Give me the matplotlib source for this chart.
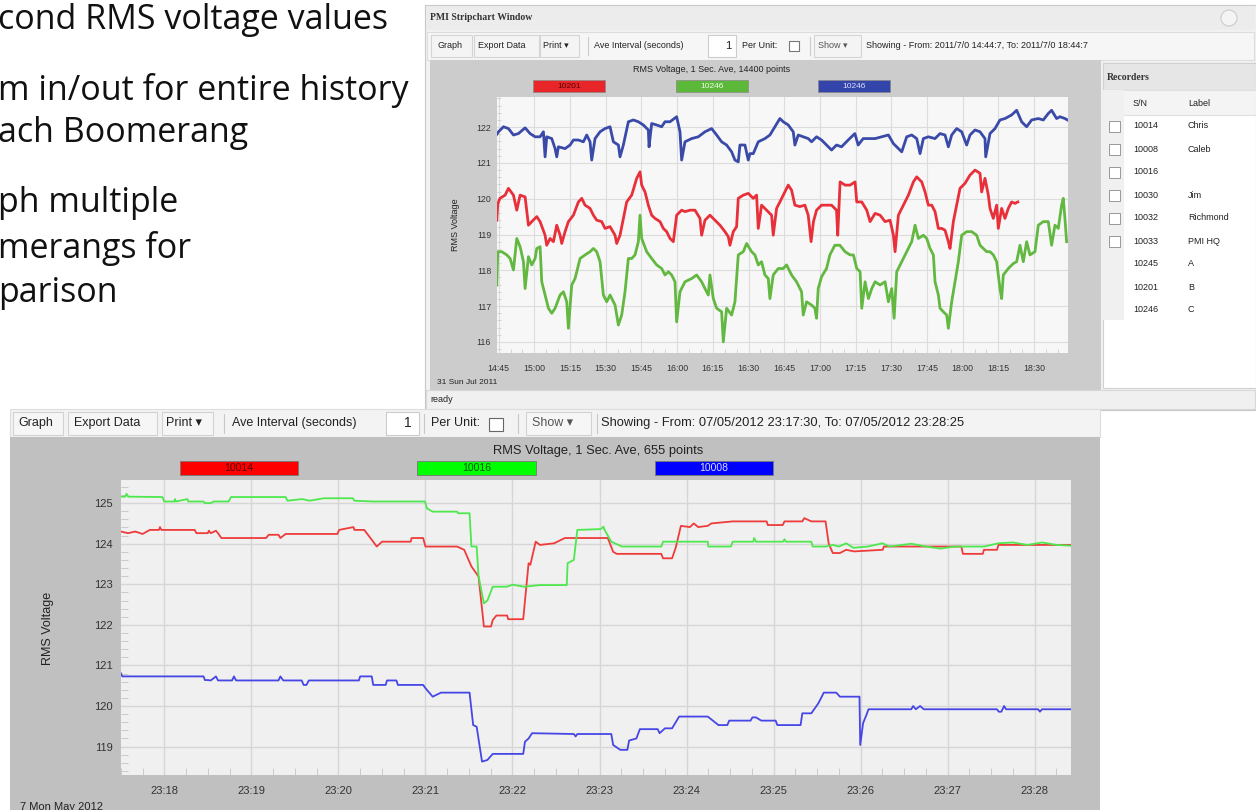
import matplotlib
matplotlib.use('Agg')
import matplotlib.pyplot as plt
from matplotlib.patches import Rectangle
from matplotlib.ticker import MultipleLocator, FixedLocator

W, H = 1256, 810

# ---- top chart (minutes after 14:00, 31 Jul 2011) ----
blue_top_t = [44.2, 44.9, 47.0, 49.1, 51.2, 53.3, 56.1, 58.2, 60.3, 62.4, 63.8, 64.5, 65.2, 67.3, 68.7, 69.4, 70.1, 72.9, 75.0, 76.4,
              78.5, 80.6, 82.0, 83.4, 84.1, 85.5, 87.6, 89.7, 91.8, 93.2, 95.3, 96.0, 97.4, 99.5, 101.6, 103.7, 105.8, 107.9, 108.2, 109.3,
              111.4, 113.5, 114.9, 117.0, 119.8, 121.2, 121.9, 123.3,
              126.1, 128.9, 131.7, 134.5, 136.6, 138.7, 140.8, 142.9, 144.3, 145.7, 146.4, 148.5, 149.9, 150.6, 152.0, 154.1, 156.9, 159.0, 161.1, 163.2,
              164.6, 166.7, 168.8, 169.5, 170.9, 173.0, 175.1, 176.5, 178.6, 180.7, 182.8, 184.9, 187.0, 189.1, 191.9, 194.7, 196.1, 198.2, 201.0,
              203.2, 206.0, 208.8, 210.9, 213.0, 214.4, 216.5, 218.6, 220.7, 222.1, 223.5, 225.6, 228.4, 230.5, 232.6, 234.0, 235.4, 237.5, 239.6, 241.7,
              243.1, 245.2, 247.3, 249.4, 249.7, 251.5, 253.6, 255.7, 257.8, 260.6, 262.7, 264.8, 266.9, 269.0, 271.8, 273.9, 276.0, 277.4, 279.5, 280.9,
              283.0, 284.1]
blue_top_v = [121.80, 121.87, 122.01, 121.96, 121.78, 121.82, 121.98, 121.82, 121.73, 121.73, 121.87, 121.17, 121.73, 121.68, 121.40, 121.17, 121.45, 121.40, 121.50, 121.64,
              121.64, 121.59, 121.78, 121.59, 121.08, 121.68, 121.87, 121.96, 122.01, 121.59, 121.50, 121.17, 121.50, 122.15, 122.20, 122.15, 122.06, 121.92, 121.45, 122.10,
              122.06, 122.01, 122.15, 122.15, 122.29, 121.87, 121.08, 121.59,
              121.68, 121.73, 121.87, 121.96, 121.78, 121.59, 121.50, 121.31, 121.08, 121.03, 121.50, 121.50, 121.08, 121.26, 121.26, 121.59, 121.68, 121.78, 122.01, 122.24,
              122.15, 122.06, 121.87, 121.50, 121.78, 121.73, 121.68, 121.59, 121.73, 121.64, 121.50, 121.36, 121.50, 121.45, 121.64, 121.82, 121.50, 121.68, 121.68,
              121.68, 121.73, 121.78, 121.54, 121.40, 121.31, 121.73, 121.78, 121.68, 121.26, 121.68, 121.73, 121.68, 121.82, 121.78, 121.45, 121.78, 121.96, 121.87, 121.50,
              121.78, 121.92, 121.87, 121.68, 121.17, 121.82, 121.96, 122.20, 122.24, 122.34, 122.47, 122.15, 122.01, 122.20, 122.24, 122.20, 122.38, 122.47, 122.24, 122.29,
              122.24, 122.20]

red_top_t = [44.2, 44.6, 45.5, 47.7, 49.1, 51.2, 52.6, 54.0, 56.1, 57.5, 58.9, 61.0, 62.4, 64.5, 65.2, 66.6, 68.0, 69.4, 70.8, 71.5, 72.9,
             74.3, 76.4, 78.5, 79.9, 81.3, 83.4, 84.8, 86.2, 88.3, 89.7, 91.8, 93.9, 94.6, 96.0, 97.4, 98.8, 100.9, 103.0, 104.4, 105.1,
             106.5, 107.9, 109.3, 110.7, 112.8, 114.2, 115.6, 117.0, 118.4, 119.8, 121.9,
             123.3, 125.4, 127.5, 129.6, 130.3, 131.7, 133.8, 135.9, 138.0, 140.1, 141.5, 142.2, 143.6, 145.0, 145.7, 147.8, 149.9, 152.0, 153.4, 154.1,
             155.5, 157.6, 159.7, 160.4, 161.8, 163.2, 164.6, 166.7, 168.1, 169.5, 171.6, 173.7, 175.1, 176.3, 177.3, 178.6, 180.7, 182.8, 184.9, 187.0,
             187.5, 188.5, 190.6, 192.7, 194.8, 195.5, 197.6, 199.7, 201.1,
             203.2, 205.3, 207.4, 209.5, 210.9, 211.6, 213.0, 215.1, 217.2, 219.3, 220.7, 222.8, 224.2, 225.6, 227.0, 228.4, 229.8, 231.2, 232.6, 234.0,
             234.7, 236.1, 237.5, 238.9, 241.0, 243.1, 245.2, 247.3, 248.0, 249.4, 250.8, 251.5, 252.9, 254.3, 255.0, 256.4, 257.8, 259.2, 260.6, 262.0,
             263.2]
red_top_v = [119.40, 119.85, 120.01, 120.10, 120.29, 120.10, 119.68, 120.10, 120.05, 119.26, 119.36, 119.50, 119.36, 118.98, 118.70, 118.89, 118.80, 119.26, 118.98, 118.75, 119.08,
             119.36, 119.54, 119.91, 120.01, 119.82, 119.73, 119.54, 119.40, 119.36, 119.17, 119.22, 118.98, 118.75, 118.98, 119.45, 119.91, 120.10, 120.57, 120.75, 120.38,
             120.19, 119.82, 119.54, 119.45, 119.36, 119.17, 119.08, 118.89, 118.80, 119.54, 119.68,
             119.64, 119.68, 119.68, 119.45, 118.98, 119.40, 119.54, 119.40, 119.26, 119.08, 118.94, 118.70, 119.08, 119.22, 120.01, 120.10, 120.15, 120.01, 120.10, 119.17,
             119.82, 119.68, 119.54, 118.98, 119.73, 119.91, 120.10, 120.38, 120.24, 119.82, 119.78, 119.82, 119.54, 118.80, 119.36, 119.68, 119.82, 119.82, 119.82, 119.68,
             118.98, 120.47, 120.38, 120.38, 120.47, 119.91, 119.91, 119.68, 119.36,
             119.59, 119.54, 119.36, 119.40, 118.98, 118.52, 119.54, 119.82, 120.10, 120.47, 120.61, 120.47, 120.19, 119.82, 119.82, 119.64, 119.17, 119.17, 119.12, 118.80,
             118.61, 119.36, 119.82, 120.29, 120.43, 120.66, 120.80, 120.71, 120.19, 120.57, 120.10, 119.73, 119.45, 119.82, 119.17, 119.73, 119.45, 119.73, 119.91, 119.87,
             119.91]

green_top_t = [44.2, 44.6, 46.3, 48.4, 49.8, 51.2, 52.6, 54.0, 55.4, 56.1, 57.5, 58.9, 60.3, 61.0, 62.4, 63.1, 64.5, 65.9, 67.3, 68.7,
               70.8, 72.2, 73.6, 74.3, 75.7, 77.1, 79.2, 81.3, 83.4, 84.8, 86.2, 87.6, 89.0, 90.4, 91.8, 93.9, 95.3, 96.7, 98.1, 99.5,
               100.9, 102.3, 103.7, 104.4, 105.1, 107.2, 109.3, 111.4, 113.5, 114.9, 116.3, 117.7, 119.1, 119.8, 121.2,
               123.3, 126.1, 128.2, 130.3, 131.7, 133.1, 133.8, 135.2, 136.6, 138.7, 139.4, 140.8, 142.9, 144.3, 145.7, 147.8, 149.2, 151.3, 152.7, 154.1,
               155.5, 156.9, 158.3, 159.0, 160.4, 162.5, 164.6, 166.0, 168.1, 170.2, 172.3, 173.0, 174.4, 176.5, 177.9, 178.6, 179.3, 180.7, 182.8, 184.2,
               186.3, 188.4, 190.6, 192.7, 194.1, 195.5, 196.9, 197.6, 199.0, 200.4, 201.8,
               203.2, 205.3, 207.4, 208.8, 210.2, 211.2, 212.3, 214.4, 216.5, 218.6, 220.0, 221.4, 223.5, 224.9, 226.3, 227.7, 228.4, 229.8, 230.5, 231.9,
               233.3, 234.0, 235.4, 236.8, 238.2, 239.6, 241.7, 243.8, 245.9, 247.3, 248.7, 250.1, 251.5, 252.9, 254.3, 255.7, 256.4, 257.1, 259.2, 261.3,
               262.7, 264.1, 265.5, 266.9, 268.3, 270.4, 271.8, 273.9, 276.0, 277.4, 278.8, 280.2, 281.6, 282.3, 283.0, 283.7]
green_top_v = [117.59, 118.52, 118.52, 118.43, 118.33, 118.01, 118.89, 118.66, 118.24, 117.49, 118.38, 118.15, 118.33, 118.61, 118.66, 117.68, 117.31, 116.94, 116.80, 116.94,
               117.31, 117.40, 117.12, 116.38, 117.59, 117.77, 118.33, 118.43, 118.52, 118.61, 118.52, 118.24, 117.31, 117.12, 117.31, 117.03, 116.47, 116.75, 117.40, 118.33,
               118.33, 118.43, 118.80, 119.54, 118.89, 118.52, 118.33, 118.15, 118.05, 117.87, 117.96, 117.87, 117.68, 116.56, 117.40,
               117.68, 117.77, 117.87, 117.68, 117.49, 117.31, 117.87, 117.21, 116.94, 116.84, 116.00, 116.94, 116.75, 117.12, 118.43, 118.52, 118.75, 118.52, 118.43, 118.15,
               118.24, 117.87, 117.77, 117.21, 117.87, 118.05, 118.05, 118.15, 117.87, 117.68, 117.40, 116.75, 117.12, 117.03, 116.94, 116.66, 117.49, 117.82, 118.05, 118.43,
               118.70, 118.70, 118.52, 118.43, 118.43, 118.05, 117.96, 116.94, 117.68, 117.21, 117.49,
               117.68, 117.59, 117.68, 117.12, 117.49, 116.66, 117.96, 118.24, 118.52, 118.80, 119.26, 118.89, 118.98, 118.89, 118.61, 118.43, 117.68, 117.31, 116.94, 116.84,
               116.75, 116.38, 117.12, 117.68, 118.24, 118.98, 119.08, 119.08, 118.98, 118.70, 118.61, 118.52, 118.52, 118.43, 118.24, 117.49, 117.21, 117.87, 118.05, 118.19,
               118.24, 118.70, 118.24, 118.80, 118.43, 118.52, 119.26, 119.36, 119.36, 118.70, 119.26, 119.17, 119.82, 120.01, 119.45, 118.80]

top_ticks = [45, 60, 75, 90, 105, 120, 135, 150, 165, 180, 195, 210, 225, 240, 255, 270]
top_tick_labels = ['14:45', '15:00', '15:15', '15:30', '15:45', '16:00', '16:15', '16:30',
                   '16:45', '17:00', '17:15', '17:30', '17:45', '18:00', '18:15', '18:30']

# ---- bottom chart (seconds after 23:17:30, 7 May 2012) ----
red_bot_s = [0, 5, 10, 15, 20, 26.3, 27, 28, 50.9, 52.1, 60, 60.7, 62, 65.6, 67, 69.3, 100.1, 102, 108.7, 110,
             113.6, 149.3, 150.5, 160.4, 161, 167.8, 174, 176.4, 180.1, 199.8, 200.5, 208.4, 210, 231.8, 236.7, 241.7, 246.6, 250.3, 255.2, 256.4,
             258.9, 266.3, 267, 277.4, 281.1, 282.3, 286, 288.9, 298.7, 306.1, 335.7, 339.4, 341.8, 372.6, 373.8, 380, 382.5, 386.1, 392.3, 395,
             398, 404.6, 407.1, 421.8, 445.2, 446, 456.3, 457.5, 469.8, 471.1, 476, 485.8, 488, 490.8, 495.7, 500, 505.5, 525.2, 526, 579.4,
             580.5, 594.2, 595, 604, 605, 655]
red_bot_v = [124.30, 124.26, 124.30, 124.24, 124.34, 124.34, 124.41, 124.34, 124.34, 124.26, 124.26, 124.32, 124.26, 124.32, 124.26, 124.14, 124.14, 124.22, 124.22, 124.14,
             124.24, 124.24, 124.34, 124.41, 124.34, 124.34, 124.05, 123.93, 124.05, 124.05, 124.14, 124.14, 123.93, 123.93, 123.85, 123.44, 123.19, 121.96, 121.96, 122.12,
             122.23, 122.23, 122.14, 122.14, 123.52, 123.48, 124.05, 123.97, 124.01, 124.14, 124.14, 123.80, 123.75, 123.75, 123.64, 123.64, 123.90, 124.44, 124.41, 124.50,
             124.41, 124.44, 124.50, 124.55, 124.55, 124.46, 124.46, 124.55, 124.55, 124.63, 124.55, 124.55, 124.00, 123.77, 123.77, 123.85, 123.81, 123.85, 123.93, 123.93,
             123.75, 123.75, 123.85, 123.85, 123.97, 123.97]

green_bot_s = [0, 3, 4, 5, 28.7, 29.9, 37, 37.3, 38, 45.9, 46.5, 57, 58, 62, 64, 74.3, 76, 113.6, 114.9, 125,
               130, 140, 160, 161, 174, 209.7, 211, 215, 231.8, 232.5, 240.4, 241.7, 245.3, 246.6, 250.3, 252.7, 256.4, 266, 270, 278,
               288.9, 307.4, 308, 312.3, 314.7, 330.8, 332.7, 333.2, 338.1, 345.5, 372.6, 373.8, 404.6, 405, 420.6, 421.8, 436, 436.6, 437.8, 456.5,
               457.5, 458.5, 476, 477, 485.8, 490.8, 495, 500, 505, 515, 525, 530, 545, 555, 565, 575, 595, 605, 615, 625,
               635, 645, 655]
green_bot_v = [125.16, 125.16, 125.23, 125.16, 125.15, 125.04, 125.04, 125.10, 125.04, 125.10, 125.04, 125.04, 125.00, 125.00, 125.04, 125.04, 125.15, 125.15, 125.06, 125.10,
               125.06, 125.12, 125.12, 125.06, 125.04, 125.04, 124.87, 124.79, 124.79, 124.75, 124.75, 123.93, 123.93, 123.20, 122.53, 122.60, 122.94, 122.94, 122.99, 122.94,
               122.98, 122.98, 123.52, 123.60, 124.34, 124.36, 124.42, 124.36, 124.05, 123.93, 123.93, 124.05, 124.05, 123.93, 123.93, 124.05, 124.05, 124.14, 124.05, 124.05,
               124.11, 124.05, 124.05, 123.93, 123.93, 123.97, 123.93, 124.01, 123.90, 123.93, 124.01, 123.93, 124.00, 123.93, 123.88, 123.93, 123.93, 124.01, 124.03, 123.97,
               124.03, 123.97, 123.95]

blue_bot_s = [0, 1, 57, 58, 60, 62, 65.6, 67, 76.7, 78, 79.5, 108.7, 110, 112, 124.7, 126, 128, 129.6, 164.1, 165,
              173, 174, 182.6, 183.5, 190, 191, 208.4, 210, 215, 220.7, 240.4, 242.9, 245.3, 249, 252.7, 256.4, 277.4, 278.6, 281.1, 283.5,
              312.3, 313.5, 314.7, 338.1, 339.4, 344.3, 349.2, 350.4, 355.4, 357.8, 370.1, 371.4, 375.1, 380, 384.9, 404.6, 412, 418.1, 419.4, 434.1,
              435.4, 437.8, 441.5, 451.4, 452.6, 468.6, 469.8, 476, 480.9, 484.6, 493.2, 495.7, 509.2, 509.7, 511.7, 514.2, 515.4, 544.9, 546.2, 548,
              551, 553.5, 604, 605.2, 607, 608.9, 610.2, 632.3, 633.6, 635, 655]
blue_bot_v = [120.81, 120.73, 120.73, 120.64, 120.64, 120.63, 120.73, 120.63, 120.63, 120.73, 120.63, 120.63, 120.73, 120.63, 120.63, 120.52, 120.52, 120.63, 120.63, 120.73,
              120.73, 120.52, 120.52, 120.63, 120.63, 120.52, 120.52, 120.44, 120.23, 120.33, 120.33, 119.53, 119.49, 118.63, 118.67, 118.82, 118.82, 119.12, 119.20, 119.33,
              119.31, 119.25, 119.31, 119.31, 119.04, 118.92, 118.92, 119.15, 119.20, 119.43, 119.43, 119.33, 119.45, 119.45, 119.74, 119.74, 119.53, 119.53, 119.64, 119.64,
              119.72, 119.72, 119.64, 119.64, 119.53, 119.53, 119.82, 119.82, 120.07, 120.33, 120.33, 120.23, 120.23, 119.04, 119.58, 119.80, 119.92, 119.92, 120.00, 119.92,
              120.00, 119.92, 119.92, 119.86, 119.86, 120.00, 119.92, 119.92, 119.86, 119.92, 119.92]

bot_ticks = [30, 90, 150, 210, 270, 330, 390, 450, 510, 570, 630]
bot_tick_labels = ['23:18', '23:19', '23:20', '23:21', '23:22', '23:23', '23:24', '23:25', '23:26', '23:27', '23:28']

bullets = ['cond RMS voltage values', 'm in/out for entire history', 'ach Boomerang',
           'ph multiple', 'merangs for', 'parison']
bullet_y = [20, 90, 133, 203, 248, 293]

recorder_sn = ['10014', '10008', '10016', '10030', '10032', '10033', '10245', '10201', '10246']
recorder_label = ['Chris', 'Caleb', '', 'Jim', 'Richmond', 'PMI HQ', 'A', 'B', 'C']

UI = ['Liberation Sans', 'DejaVu Sans']

fig = plt.figure(figsize=(W / 100, H / 100), dpi=100)
fig.patch.set_facecolor('white')
bg = fig.add_axes([0, 0, 1, 1])
bg.set_xlim(0, W)
bg.set_ylim(H, 0)
bg.axis('off')


def box(x0, y0, x1, y1, fc, ec='none', lw=0.8, z=1):
    bg.add_patch(Rectangle((x0, y0), x1 - x0, y1 - y0, facecolor=fc, edgecolor=ec, lw=lw, zorder=z))


def txt(x, y, s, size, **kw):
    kw.setdefault('family', UI)
    kw.setdefault('va', 'center')
    kw.setdefault('color', '#222222')
    bg.text(x, y, s, fontsize=size, zorder=5, **kw)


def axes_px(x0, y0, x1, y1):
    return fig.add_axes([x0 / W, 1 - y1 / H, (x1 - x0) / W, (y1 - y0) / H])


# slide bullets
for s, y in zip(bullets, bullet_y):
    txt(-2, y, s, 24.5, family='Open Sans', color='#111111')

# ---------- top window ----------
box(425, 5, 1256, 410, '#f2f2f2', '#c8c8c8', z=1)
box(426, 6, 1255, 30, '#ececec', z=1)
txt(430, 17, 'PMI Stripchart Window', 7, family='Liberation Serif', weight='bold', color='#333333')
bg.add_patch(plt.Circle((1229, 18), 8, facecolor='#f4f4f4', edgecolor='#cccccc', lw=0.8, zorder=2))
box(427, 32, 1254, 60, '#f6f6f6', '#dddddd', z=1)
for x0, x1 in [(431, 472), (474, 539), (540, 579), (814, 861)]:
    box(x0, 35, x1, 57, '#f4f4f4', '#d4d4d4', z=2)
box(708, 35, 736, 57, 'white', '#cccccc', z=2)
txt(437, 46, 'Graph', 6.5)
txt(478, 46, 'Export Data', 6.5)
txt(543, 46, 'Print \u25be', 6.5)
bg.plot([588, 588], [37, 55], color='#cccccc', lw=0.8, zorder=3)
txt(594, 46, 'Ave Interval (seconds)', 6.5)
txt(731, 46, '1', 8, ha='right')
txt(742, 46, 'Per Unit:', 6.5)
box(789, 41, 799, 51, 'white', '#777777', z=3)
bg.plot([810, 810], [37, 55], color='#cccccc', lw=0.8, zorder=3)
txt(818, 46, 'Show \u25be', 6.5, color='#555555')
txt(866, 46, 'Showing - From: 2011/7/0 14:44:7, To: 2011/7/0 18:44:7', 6.5)

box(430, 60, 1101, 390, '#cccccc', z=1)
txt(712, 70, 'RMS Voltage, 1 Sec. Ave, 14400 points', 6.5, ha='center')
for (x0, x1), fc, tc, lab in zip([(533, 605), (676, 748), (818, 890)],
                                 ['#e8262a', '#5cb838', '#3344aa'],
                                 ['#550000', '#eeffee', '#dde0ff'],
                                 ['10201', '10246', '10246']):
    box(x0, 80, x1, 92, fc, '#888888', lw=0.5, z=2)
    txt((x0 + x1) / 2, 86, lab, 6, ha='center', color=tc)
txt(455, 225, 'RMS Voltage', 6.5, rotation=90, ha='center')
txt(437, 382, '31 Sun Jul 2011', 6)

# recorders panel
box(1103, 63, 1256, 388, '#ffffff', '#d0d0d0', z=1)
box(1103, 63, 1256, 90, '#e6e6e6', '#d0d0d0', z=2)
txt(1107, 77, 'Recorders', 7, family='Liberation Serif', weight='bold', color='#333333')
box(1103, 90, 1256, 115, '#f4f4f4', '#e0e0e0', z=2)
box(1103, 90, 1124, 320, '#f0f0f0', z=2)
txt(1133, 103, 'S/N', 6.5)
txt(1188, 103, 'Label', 6.5)
row_y = [126, 149, 172, 195, 218, 241, 264, 287, 310]
for i, (sn, lab) in enumerate(zip(recorder_sn, recorder_label)):
    y = row_y[i]
    if i < 6:
        box(1109, y - 5, 1120, y + 6, 'white', '#999999', lw=0.7, z=3)
    txt(1133, y, sn, 6.5)
    txt(1188, y, lab, 6.5)

box(426, 390, 1255, 409, '#f0f0f0', '#d8d8d8', z=1)
txt(430, 399, 'ready', 6.5)

# top plot
ax1 = axes_px(496.6, 96.7, 1067.6, 353)
ax1.set_facecolor('#f7f7f7')
ax1.plot(blue_top_t, blue_top_v, color='#3a4aa8', lw=2.0)
ax1.plot(red_top_t, red_top_v, color='#e8303a', lw=2.0)
ax1.plot(green_top_t, green_top_v, color='#62b840', lw=2.0)
ax1.set_xlim(44.12, 284.12)
ax1.set_ylim(115.69, 122.85)
ax1.xaxis.set_major_locator(FixedLocator(top_ticks))
ax1.set_xticklabels(top_tick_labels)
ax1.yaxis.set_major_locator(MultipleLocator(1))
ax1.xaxis.set_minor_locator(MultipleLocator(5))
ax1.yaxis.set_minor_locator(MultipleLocator(0.2))
ax1.grid(True, which='major', color='#dcdcdc', lw=0.8)
ax1.set_axisbelow(True)
ax1.tick_params(which='major', length=0, labelsize=6.3, pad=8, labelcolor='#333333')
ax1.tick_params(axis='y', which='major', pad=4)
ax1.tick_params(which='minor', direction='in', length=3, color='#cfcfcf')
ax1.tick_params(axis='x', which='minor', bottom=True, top=False)
ax1.tick_params(axis='y', which='minor', left=True, right=False)
for t in ax1.get_xticklabels() + ax1.get_yticklabels():
    t.set_family(UI)
for sp in ax1.spines.values():
    sp.set_visible(False)

# ---------- bottom window ----------
box(10, 409, 1100, 437, '#f3f3f3', '#dddddd', z=3)
for x0, x1 in [(13, 63), (68, 157), (162, 213), (526, 591)]:
    box(x0, 412, x1, 435, '#f6f6f6', '#d2d2d2', z=4)
box(386, 412, 419, 435, 'white', '#cccccc', z=4)
txt(18, 423, 'Graph', 9)
txt(74, 423, 'Export Data', 9)
txt(166, 423, 'Print \u25be', 9)
for x in [224, 424, 518, 597]:
    bg.plot([x, x], [414, 433], color='#c8c8c8', lw=0.8, zorder=4)
txt(232, 423, 'Ave Interval (seconds)', 9)
txt(412, 423, '1', 10, ha='right')
txt(431, 423, 'Per Unit:', 9)
box(489, 418, 503, 431, 'white', '#666666', z=5)
txt(532, 423, 'Show \u25be', 9, color='#555555')
txt(601, 423, 'Showing - From: 07/05/2012 23:17:30, To: 07/05/2012 23:28:25', 9.3)

box(10, 437, 1100, 812, '#c0c0c0', z=3)
txt(598, 451, 'RMS Voltage, 1 Sec. Ave, 655 points', 9.3, ha='center')
for (x0, x1), fc, tc, lab in zip([(180, 298), (417, 536), (655, 773)],
                                 ['#ff0000', '#00ff00', '#0000ff'],
                                 ['#5a0000', '#005500', '#ddddff'],
                                 ['10014', '10016', '10008']):
    box(x0, 461, x1, 475, fc, '#777777', lw=0.6, z=4)
    txt((x0 + x1) / 2, 468, lab, 7.5, ha='center', color=tc)
txt(48, 628, 'RMS Voltage', 9, rotation=90, ha='center')
txt(20, 802, '7 Mon May 2012', 8, va='top')

ax2 = axes_px(120.8, 480, 1071, 775)
ax2.set_facecolor('#f0f0f0')
ax2.plot(red_bot_s, red_bot_v, color='#ee3b3b', lw=1.3)
ax2.plot(green_bot_s, green_bot_v, color='#4ee84e', lw=1.3)
ax2.plot(blue_bot_s, blue_bot_v, color='#4646e6', lw=1.3)
ax2.set_xlim(0, 655)
ax2.set_ylim(118.30, 125.57)
ax2.xaxis.set_major_locator(FixedLocator(bot_ticks))
ax2.set_xticklabels(bot_tick_labels)
ax2.yaxis.set_major_locator(MultipleLocator(1))
ax2.xaxis.set_minor_locator(MultipleLocator(15))
ax2.yaxis.set_minor_locator(MultipleLocator(0.2))
ax2.grid(True, which='major', color='#d6d6d6', lw=1.0)
ax2.set_axisbelow(True)
ax2.tick_params(which='major', length=0, labelsize=8, pad=8, labelcolor='#333333')
ax2.tick_params(axis='y', which='major', pad=6)
ax2.tick_params(which='minor', direction='in', length=5, color='#c4c4c4')
ax2.tick_params(axis='x', which='minor', bottom=True, top=False)
ax2.tick_params(axis='y', which='minor', left=True, right=False)
for t in ax2.get_xticklabels() + ax2.get_yticklabels():
    t.set_family(UI)
for sp in ax2.spines.values():
    sp.set_visible(False)

fig.savefig('out.png', dpi=100)
